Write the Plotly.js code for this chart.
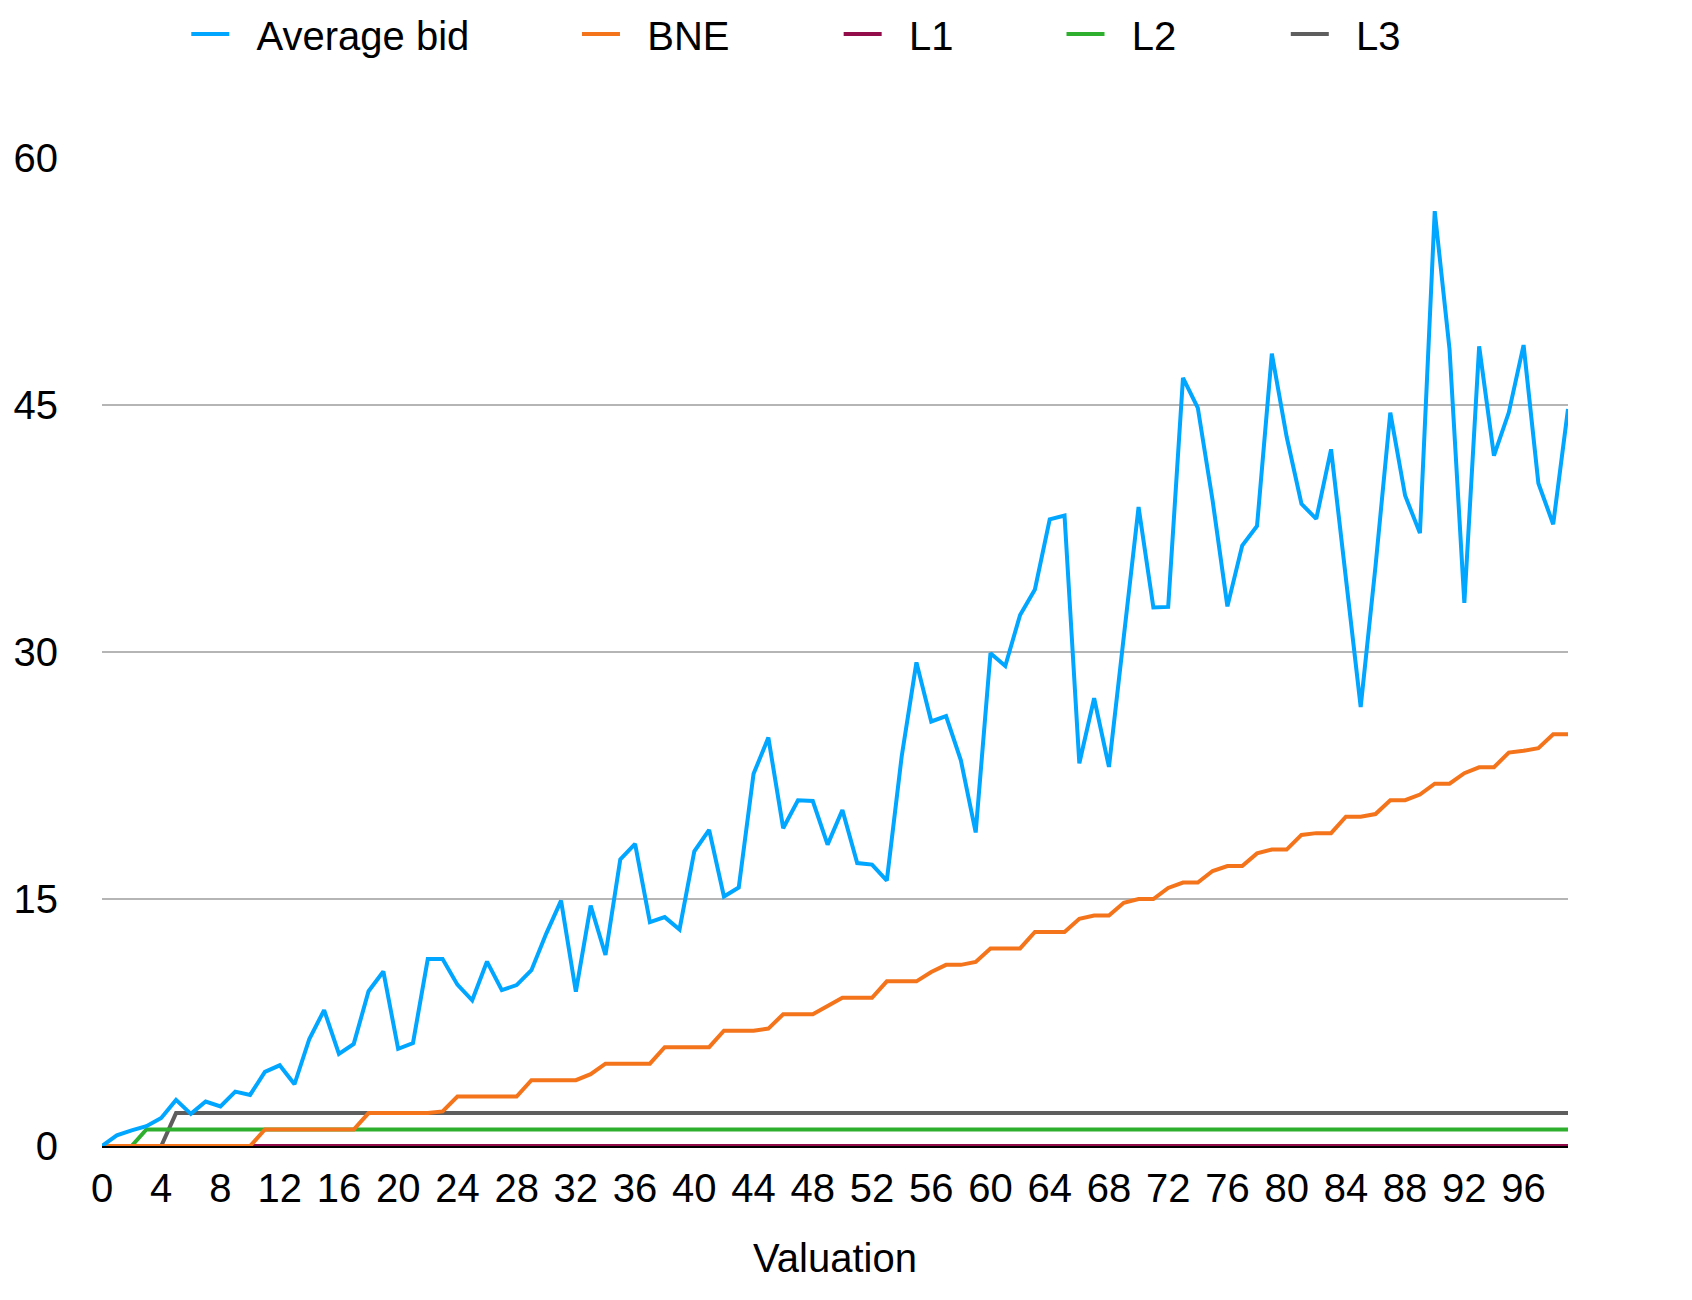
<!DOCTYPE html>
<html>
<head>
<meta charset="utf-8">
<script src="https://cdn.plot.ly/plotly-3.0.1.min.js"></script>
<style>
  html, body { margin: 0; padding: 0; background: #fff; }
  #chart { width: 1692px; height: 1300px; }
</style>
</head>
<body>
<div id="chart"></div>
<script>
// valuations 0..99
const valuation = [
  0, 1, 2, 3, 4, 5, 6, 7, 8, 9, 10, 11, 12, 13, 14, 15, 16, 17, 18, 19,
  20, 21, 22, 23, 24, 25, 26, 27, 28, 29, 30, 31, 32, 33, 34, 35, 36, 37, 38, 39,
  40, 41, 42, 43, 44, 45, 46, 47, 48, 49, 50, 51, 52, 53, 54, 55, 56, 57, 58, 59,
  60, 61, 62, 63, 64, 65, 66, 67, 68, 69, 70, 71, 72, 73, 74, 75, 76, 77, 78, 79,
  80, 81, 82, 83, 84, 85, 86, 87, 88, 89, 90, 91, 92, 93, 94, 95, 96, 97, 98, 99
];

const averageBid = [
  0, 0.65, 0.95, 1.2, 1.7, 2.8, 1.95, 2.7, 2.4, 3.3,
  3.1, 4.5, 4.9, 3.75, 6.5, 8.25, 5.6, 6.2, 9.4, 10.6,
  5.9, 6.25, 11.35, 11.35, 9.8, 8.85, 11.2, 9.47, 9.77, 10.68,
  12.9, 14.9, 9.37, 14.6, 11.6, 17.4, 18.35, 13.6, 13.9, 13.15,
  17.9, 19.2, 15.15, 15.7, 22.6, 24.8, 19.3, 21.0, 20.95, 18.3,
  20.4, 17.18, 17.09, 16.12, 23.64, 29.37, 25.78, 26.11, 23.42, 19.04,
  29.93, 29.15, 32.25, 33.8, 38.06, 38.29, 23.24, 27.19, 23.02, 30.9,
  38.8, 32.7, 32.74, 46.65, 44.83, 39.2, 32.77, 36.46, 37.65, 48.12,
  43.07, 39.0, 38.08, 42.31, 34.5, 26.66, 35.2, 44.54, 39.5, 37.22,
  56.77, 48.38, 32.99, 48.56, 41.92, 44.54, 48.64, 40.25, 37.76, 44.76
];

const bne = [
  0, 0, 0, 0, 0, 0, 0, 0, 0, 0,
  0, 1, 1, 1, 1, 1, 1, 1, 2, 2,
  2, 2, 2, 2.1, 3, 3, 3, 3, 3, 4,
  4, 4, 4, 4.36, 5, 5, 5, 5, 6, 6,
  6, 6, 7, 7, 7, 7.13, 8, 8, 8, 8.5,
  9, 9, 9, 10, 10, 10, 10.57, 11, 11, 11.18,
  12, 12, 12, 13, 13, 13, 13.8, 14, 14, 14.77,
  15, 15, 15.67, 16, 16, 16.7, 17, 17, 17.77, 18,
  18, 18.89, 19, 19, 20, 20, 20.16, 21, 21, 21.34,
  22, 22, 22.64, 23, 23, 23.89, 24, 24.16, 25, 25
];

const l1 = [
  0, 0, 0, 0, 0, 0, 0, 0, 0, 0, 0, 0, 0, 0, 0, 0, 0, 0, 0, 0,
  0, 0, 0, 0, 0, 0, 0, 0, 0, 0, 0, 0, 0, 0, 0, 0, 0, 0, 0, 0,
  0, 0, 0, 0, 0, 0, 0, 0, 0, 0, 0, 0, 0, 0, 0, 0, 0, 0, 0, 0,
  0, 0, 0, 0, 0, 0, 0, 0, 0, 0, 0, 0, 0, 0, 0, 0, 0, 0, 0, 0,
  0, 0, 0, 0, 0, 0, 0, 0, 0, 0, 0, 0, 0, 0, 0, 0, 0, 0, 0, 0
];

const l2 = [
  0, 0, 0, 1, 1, 1, 1, 1, 1, 1, 1, 1, 1, 1, 1, 1, 1, 1, 1, 1,
  1, 1, 1, 1, 1, 1, 1, 1, 1, 1, 1, 1, 1, 1, 1, 1, 1, 1, 1, 1,
  1, 1, 1, 1, 1, 1, 1, 1, 1, 1, 1, 1, 1, 1, 1, 1, 1, 1, 1, 1,
  1, 1, 1, 1, 1, 1, 1, 1, 1, 1, 1, 1, 1, 1, 1, 1, 1, 1, 1, 1,
  1, 1, 1, 1, 1, 1, 1, 1, 1, 1, 1, 1, 1, 1, 1, 1, 1, 1, 1, 1
];

const l3 = [
  0, 0, 0, 0, 0, 2, 2, 2, 2, 2, 2, 2, 2, 2, 2, 2, 2, 2, 2, 2,
  2, 2, 2, 2, 2, 2, 2, 2, 2, 2, 2, 2, 2, 2, 2, 2, 2, 2, 2, 2,
  2, 2, 2, 2, 2, 2, 2, 2, 2, 2, 2, 2, 2, 2, 2, 2, 2, 2, 2, 2,
  2, 2, 2, 2, 2, 2, 2, 2, 2, 2, 2, 2, 2, 2, 2, 2, 2, 2, 2, 2,
  2, 2, 2, 2, 2, 2, 2, 2, 2, 2, 2, 2, 2, 2, 2, 2, 2, 2, 2, 2
];

const FONT = 'Helvetica, "Liberation Sans", Arial, sans-serif';
// two no-break spaces push the legend text away from its swatch
const GAP = '\u00a0\u00a0';

// first series sits on top, so add them last-to-first
function line(name, ys, color, legendId) {
    return {
        x: valuation,
        y: ys,
        name: GAP + name,
        type: 'scatter',
        mode: 'lines',
        line: { color: color, width: 4 },
        legend: legendId,
        hoverinfo: 'none'
    };
}

const traces = [
    line('L3', l3, '#5e5e5e', 'legend5'),
    line('L2', l2, '#2eb02e', 'legend4'),
    line('L1', l1, '#930d4a', 'legend3'),
    line('BNE', bne, '#f4741c', 'legend2'),
    line('Average bid', averageBid, '#00a6ff', 'legend')
];

function legendAt(x) {
    return {
        x: x,
        y: 1.1255,
        xanchor: 'left',
        yanchor: 'middle',
        orientation: 'h',
        bgcolor: 'rgba(0,0,0,0)',
        itemwidth: 38,
        font: { family: FONT, size: 40, color: '#000' }
    };
}

const layout = {
    width: 1692,
    height: 1300,
    // keep the legends from pushing the plot area down
    margin: { l: 102, r: 124, t: 158, b: 154, autoexpand: false },
    paper_bgcolor: '#fff',
    plot_bgcolor: '#fff',
    font: { family: FONT, size: 40, color: '#000' },
    showlegend: true,
    legend: legendAt(0.0575),
    legend2: legendAt(0.3240),
    legend3: legendAt(0.5025),
    legend4: legendAt(0.6545),
    legend5: legendAt(0.8075),
    xaxis: {
        range: [0, 99],
        tick0: 0,
        dtick: 4,
        showgrid: false,
        zeroline: false,
        showline: true,
        linecolor: '#000',
        linewidth: 2,
        layer: 'below traces',
        ticks: '',
        ticklabelstandoff: 6,
        tickfont: { family: FONT, size: 40, color: '#000' },
        title: { text: 'Valuation', font: { family: FONT, size: 40, color: '#000' }, standoff: 35 },
        fixedrange: true
    },
    yaxis: {
        range: [0, 60],
        tick0: 0,
        dtick: 15,
        showgrid: true,
        gridcolor: '#b5b5b5',
        gridwidth: 2,
        zeroline: false,
        showline: false,
        ticks: '',
        ticklabelstandoff: 43,
        tickfont: { family: FONT, size: 40, color: '#000' },
        fixedrange: true
    }
};

Plotly.newPlot('chart', traces, layout, { staticPlot: true, displayModeBar: false });
</script>
</body>
</html>
